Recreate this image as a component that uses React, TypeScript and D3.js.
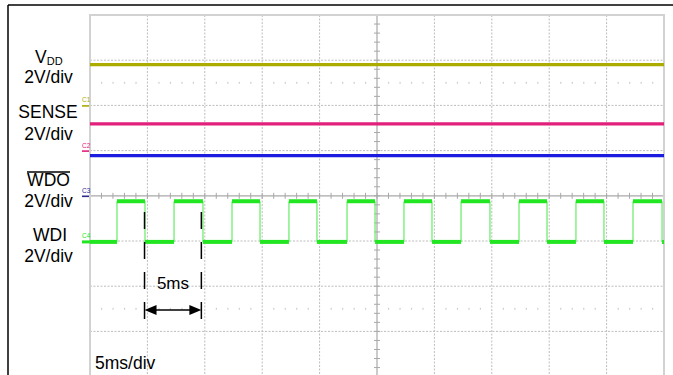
import React from "react";
import * as d3 from "d3";

// ---- data ----
const timeDomainMs = [0, 50];            // 10 div x 5 ms/div
const divDomain = [-4, 4];               // 8 vertical divisions
const voltsPerDiv = 2;

const channelNames = ["VDD", "SENSE", "WDO", "WDI"];
const channelTags = ["C1", "C2", "C3", "C4"];
const channelGroundDiv = [2, 1, 0, -1];  // ground marker positions (div from centre)
const channelColors = ["#abab00", "#e2207c", "#1c1ce0", "#22e622"];
const flatLevelsV = [1.8, 1.18, 1.78];   // VDD, SENSE, WDO (V)

const wdiEdgeTimesMs = [
  2.35, 4.79, 7.32, 9.84, 12.37, 14.81, 17.33, 19.77, 22.39, 24.83,
  27.35, 29.79, 32.32, 34.84, 37.37, 39.81, 42.33, 44.77, 47.3, 49.83,
];
const wdiLowV = -0.04;
const wdiHighV = 1.76;

const markerTimesMs = [4.75, 9.7];
const markerLabel = "5ms";
const timebaseLabel = "5ms/div";
const scaleLabel = "2V/div";

const W = 673;
const H = 375;
const FONT = "Arial, 'Liberation Sans', Helvetica, sans-serif";

export default function App() {
  const x = d3.scaleLinear().domain(timeDomainMs).range([90, 664]);
  const y = d3.scaleLinear().domain(divDomain).range([376.6, 15]);
  const yV = (ch: number, v: number) => y(channelGroundDiv[ch] + v / voltsPerDiv);

  const majorX = d3.range(1, 10).map((i) => timeDomainMs[0] + i * 5);
  const majorY = d3.range(-3, 4);
  const minorX = d3.range(0, 51).map((i) => i);
  const minorY = d3.range(-20, 21).map((i) => i / 5);

  const gridColor = "#bdbdbd";
  const x0 = x(timeDomainMs[0]);
  const x1 = x(timeDomainMs[1]);
  const yTop = y(divDomain[1]);
  const yBot = y(divDomain[0]) + 10;

  // WDI segments
  const bounds = [timeDomainMs[0], ...wdiEdgeTimesMs, timeDomainMs[1]];
  const segs = d3.range(bounds.length - 1).map((i) => ({
    t0: bounds[i],
    t1: bounds[i + 1],
    v: i % 2 === 0 ? wdiLowV : wdiHighV,
  }));

  const dotRows = [2.5, -2.5];

  return (
    <svg
      width={W}
      height={H}
      style={{ position: "absolute", left: 0, top: 0, background: "#fff" }}
      fontFamily={FONT}
    >
      {/* outer frame */}
      <line x1={8} y1={5} x2={W} y2={5} stroke="#000" strokeWidth={1.5} />
      <line x1={8} y1={5} x2={8} y2={H} stroke="#000" strokeWidth={1.5} />

      {/* grid */}
      {majorX.map((t) =>
        t === 25 ? null : (
          <line key={"gx" + t} x1={x(t)} x2={x(t)} y1={yTop} y2={yBot} stroke={gridColor} strokeWidth={1} strokeDasharray="2,1.5" />
        )
      )}
      {majorY.map((d) =>
        d === 0 ? null : (
          <line key={"gy" + d} x1={x0} x2={x1} y1={y(d)} y2={y(d)} stroke={gridColor} strokeWidth={1} strokeDasharray="2,1.5" />
        )
      )}
      {/* half-division dotted rows */}
      {dotRows.map((d) =>
        minorX
          .filter((t) => t % 5 !== 0)
          .map((t) => (
            <rect key={"dr" + d + "_" + t} x={x(t) - 0.5} y={y(d) - 1} width={1.2} height={2} fill="#cfcfcf" />
          ))
      )}
      {/* centre axes */}
      <line x1={x(25)} x2={x(25)} y1={yTop} y2={yBot} stroke="#a8a8a8" strokeWidth={1.2} />
      <line x1={x0} x2={x1} y1={y(0)} y2={y(0)} stroke="#a8a8a8" strokeWidth={1.2} />
      {minorY.map((d) => (
        <line key={"ty" + d} x1={x(25) - 3} x2={x(25) + 3} y1={y(d)} y2={y(d)} stroke="#a8a8a8" strokeWidth={1} />
      ))}
      {minorX.map((t) => (
        <line key={"tx" + t} x1={x(t)} x2={x(t)} y1={y(0) - 3} y2={y(0) + 3} stroke="#a8a8a8" strokeWidth={1} />
      ))}
      {/* screen border */}
      <path d={`M${x0},${yBot} V${yTop} H${x1} V${yBot}`} fill="none" stroke="#d2d2d2" strokeWidth={2} />

      {/* flat traces */}
      {flatLevelsV.map((v, ch) => (
        <line
          key={"tr" + ch}
          x1={x0}
          x2={x1}
          y1={yV(ch, v)}
          y2={yV(ch, v)}
          stroke={channelColors[ch]}
          strokeWidth={3.2}
        />
      ))}

      {/* WDI square wave */}
      {wdiEdgeTimesMs.map((t, i) => (
        <line key={"we" + i} x1={x(t)} x2={x(t)} y1={yV(3, wdiLowV)} y2={yV(3, wdiHighV)} stroke="#70ee70" strokeWidth={1.3} />
      ))}
      {segs.map((s, i) => (
        <line
          key={"ws" + i}
          x1={x(s.t0)}
          x2={x(s.t1)}
          y1={yV(3, s.v)}
          y2={yV(3, s.v)}
          stroke={channelColors[3]}
          strokeWidth={4}
        />
      ))}

      {/* channel ground markers */}
      {channelTags.map((tag, ch) => (
        <g key={tag}>
          <text x={82} y={y(channelGroundDiv[ch]) - 3} fontSize={6.5} fill={channelColors[ch] === "#1c1ce0" ? "#2a2a90" : channelColors[ch]}>
            {tag}
          </text>
          <line
            x1={82}
            x2={ch === 3 ? 91 : 89}
            y1={ch === 3 ? yV(3, wdiLowV) : y(channelGroundDiv[ch]) + 0.5}
            y2={ch === 3 ? yV(3, wdiLowV) : y(channelGroundDiv[ch]) + 0.5}
            stroke={ch === 2 ? "#2a2a90" : channelColors[ch]}
            strokeWidth={ch === 3 ? 3 : 1.6}
          />
        </g>
      ))}

      {/* time markers */}
      {markerTimesMs.map((t, i) => (
        <line key={"mk" + i} x1={x(t)} x2={x(t)} y1={212} y2={320} stroke="#000" strokeWidth={1.5} strokeDasharray="17,13" />
      ))}
      <line x1={x(markerTimesMs[0]) + 6} x2={x(markerTimesMs[1]) - 6} y1={310} y2={310} stroke="#000" strokeWidth={1.5} />
      <path
        d={`M${x(markerTimesMs[0])},310 l12,-5 v10 Z M${x(markerTimesMs[1])},310 l-12,-5 v10 Z`}
        fill="#000"
      />
      <text x={(x(markerTimesMs[0]) + x(markerTimesMs[1])) / 2} y={289} fontSize={17} textAnchor="middle" fill="#000">
        {markerLabel}
      </text>
      <text x={95} y={369} fontSize={17.5} fill="#000">
        {timebaseLabel}
      </text>

      {/* channel labels */}
      <text x={35} y={63} fontSize={17.5} fill="#000">
        V<tspan fontSize={11} dy={2}>DD</tspan>
      </text>
      <text x={48.5} y={83} fontSize={17.5} textAnchor="middle" fill="#000">{scaleLabel}</text>

      <text x={48} y={118} fontSize={17.5} textAnchor="middle" fill="#000">{channelNames[1]}</text>
      <text x={48.5} y={140} fontSize={17.5} textAnchor="middle" fill="#000">{scaleLabel}</text>

      <text x={48.5} y={186} fontSize={17.5} textAnchor="middle" fill="#000">{channelNames[2]}</text>
      <line x1={27} x2={70} y1={172} y2={172} stroke="#000" strokeWidth={1.3} />
      <text x={48.5} y={207} fontSize={17.5} textAnchor="middle" fill="#000">{scaleLabel}</text>

      <text x={50} y={241} fontSize={17.5} textAnchor="middle" fill="#000">{channelNames[3]}</text>
      <text x={48.5} y={262} fontSize={17.5} textAnchor="middle" fill="#000">{scaleLabel}</text>
    </svg>
  );
}
